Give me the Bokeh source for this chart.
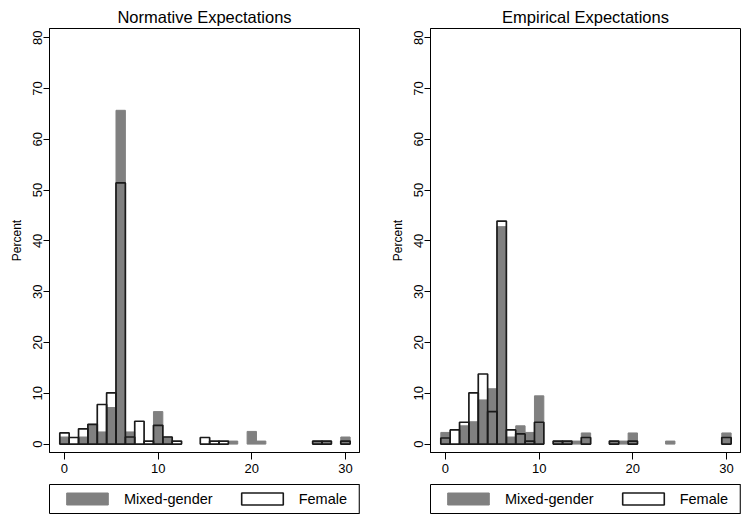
from bokeh.plotting import figure
from bokeh.models import Legend, LegendItem, FixedTicker, Range1d, ColumnDataSource
from bokeh.layouts import row, column
from bokeh.embed import file_html
from bokeh.resources import INLINE

# ---- data (percent per integer bin) ----
bins = list(range(0, 31))

norm_mixed = [1.4, 0, 1.4, 3.9, 2.4, 7.2, 65.7, 2.4, 0, 0, 6.4, 1.4, 0, 0, 0, 0,
              0, 0, 0.6, 0, 2.5, 0.6, 0, 0, 0, 0, 0, 0.6, 0.6, 0, 1.4]
norm_female = [2.2, 1.3, 3.0, 3.9, 7.8, 10.1, 51.4, 1.4, 4.5, 0.6, 3.7, 1.4, 0.6, 0, 0, 1.3,
               0.6, 0.6, 0, 0, 0, 0, 0, 0, 0, 0, 0, 0.6, 0.6, 0, 0.6]

emp_mixed = [2.3, 0, 3.6, 4.4, 8.7, 10.9, 42.8, 1.4, 3.6, 2.3, 9.5, 0, 0.6, 0.6, 0.6, 2.2,
             0, 0, 0.6, 0.6, 2.2, 0, 0, 0, 0.6, 0, 0, 0, 0, 0, 2.2]
emp_female = [1.2, 2.8, 4.3, 10.1, 13.8, 6.4, 43.9, 2.8, 2.0, 0.6, 4.3, 0, 0.6, 0.6, 0, 1.3,
              0, 0, 0.6, 0, 0.6, 0, 0, 0, 0, 0, 0, 0, 0, 0, 1.3]

x_ticks = [0, 10, 20, 30]
y_ticks = [0, 10, 20, 30, 40, 50, 60, 70, 80]
titles = ["Normative Expectations", "Empirical Expectations"]
series_names = ["Mixed-gender", "Female"]

FONT = "Liberation Sans"
GRAY = "#808080"
DARK = "#1a1a1a"


def nonzero(xs, ys):
    pairs = [(x, y) for x, y in zip(xs, ys) if y > 0]
    return dict(x=[p[0] for p in pairs], top=[p[1] for p in pairs])


def make_panel(title, mixed, female, width, mbl, mbr):
    p = figure(width=width, height=482, output_backend="svg", toolbar_location=None,
               x_range=Range1d(-1.6, 31.5), y_range=Range1d(-1.65, 81.8),
               min_border_left=mbl, min_border_right=mbr,
               min_border_top=28, min_border_bottom=30)
    p.title.text = title
    p.title.align = "center"
    p.title.text_font = FONT
    p.title.text_font_size = "16.5px"
    p.title.text_font_style = "normal"
    p.title.text_color = "black"
    p.title.standoff = 6
    p.title.offset = 0

    src_m = ColumnDataSource(nonzero(bins, mixed))
    src_f = ColumnDataSource(nonzero(bins, female))
    p.vbar(x="x", top="top", bottom=0, width=1.0, source=src_m,
           fill_color=GRAY, line_color=GRAY, line_width=1)
    p.vbar(x="x", top="top", bottom=0, width=1.0, source=src_f,
           fill_color="white", fill_alpha=0, line_color=DARK, line_width=1.7)

    p.xgrid.visible = False
    p.ygrid.visible = False
    p.outline_line_color = "black"
    p.outline_line_width = 1
    p.background_fill_color = "white"
    p.border_fill_color = "white"

    xa = p.xaxis[0]
    xa.ticker = FixedTicker(ticks=x_ticks)
    xa.major_tick_out = 7
    xa.major_tick_in = 0
    xa.minor_tick_out = 0
    xa.minor_tick_in = 0
    xa.major_label_text_font = FONT
    xa.major_label_text_font_size = "13px"
    xa.major_label_text_color = "black"
    xa.major_label_standoff = 4
    xa.axis_line_color = "black"

    ya = p.yaxis[0]
    ya.ticker = FixedTicker(ticks=y_ticks)
    ya.major_tick_out = 6
    ya.major_tick_in = 0
    ya.minor_tick_out = 0
    ya.minor_tick_in = 0
    ya.major_label_orientation = "vertical"
    ya.major_label_text_font = FONT
    ya.major_label_text_font_size = "13px"
    ya.major_label_text_color = "black"
    ya.major_label_standoff = 1
    ya.axis_label = "Percent"
    ya.axis_label_text_font = FONT
    ya.axis_label_text_font_size = "12px"
    ya.axis_label_text_font_style = "normal"
    ya.axis_label_text_color = "black"
    ya.axis_label_standoff = 7
    ya.axis_line_color = "black"
    return p


def make_legend(width, mbl, mbr):
    # the frame of this small figure is the legend's box
    q = figure(width=width, height=34, output_backend="svg", toolbar_location=None,
               x_range=Range1d(0, 1), y_range=Range1d(0, 1),
               x_axis_location=None, y_axis_location=None,
               min_border_left=mbl, min_border_right=mbr,
               min_border_top=2, min_border_bottom=3)
    q.xgrid.visible = False
    q.ygrid.visible = False
    q.outline_line_color = "black"
    q.outline_line_width = 1
    q.background_fill_color = "white"
    q.border_fill_color = "white"
    # off-screen sample bars, used only for the legend swatches
    r_m = q.vbar(x=[5], top=[1], bottom=0, width=1.0,
                 fill_color=GRAY, line_color=GRAY, line_width=1)
    r_f = q.vbar(x=[5], top=[1], bottom=0, width=1.0,
                 fill_color="white", fill_alpha=0, line_color=DARK, line_width=1.6)
    legend = Legend(items=[LegendItem(label=series_names[0], renderers=[r_m]),
                           LegendItem(label=series_names[1], renderers=[r_f])],
                    orientation="horizontal", location="center")
    legend.glyph_width = 52
    legend.glyph_height = 15
    legend.label_height = 15
    legend.label_standoff = 11
    legend.spacing = 23
    legend.padding = 0
    legend.margin = 0
    legend.label_text_font = FONT
    legend.label_text_font_size = "14.5px"
    legend.label_text_color = "black"
    legend.border_line_color = None
    legend.background_fill_alpha = 0
    q.add_layout(legend)
    return q


p1 = make_panel(titles[0], norm_mixed, norm_female, 378, 49, 19)
p2 = make_panel(titles[1], emp_mixed, emp_female, 370, 52, 8)
l1 = make_legend(378, 48, 17)
l2 = make_legend(370, 51, 7)
layout = row(column(p1, l1), column(p2, l2))

open("out.html", "w").write(file_html(layout, INLINE))
